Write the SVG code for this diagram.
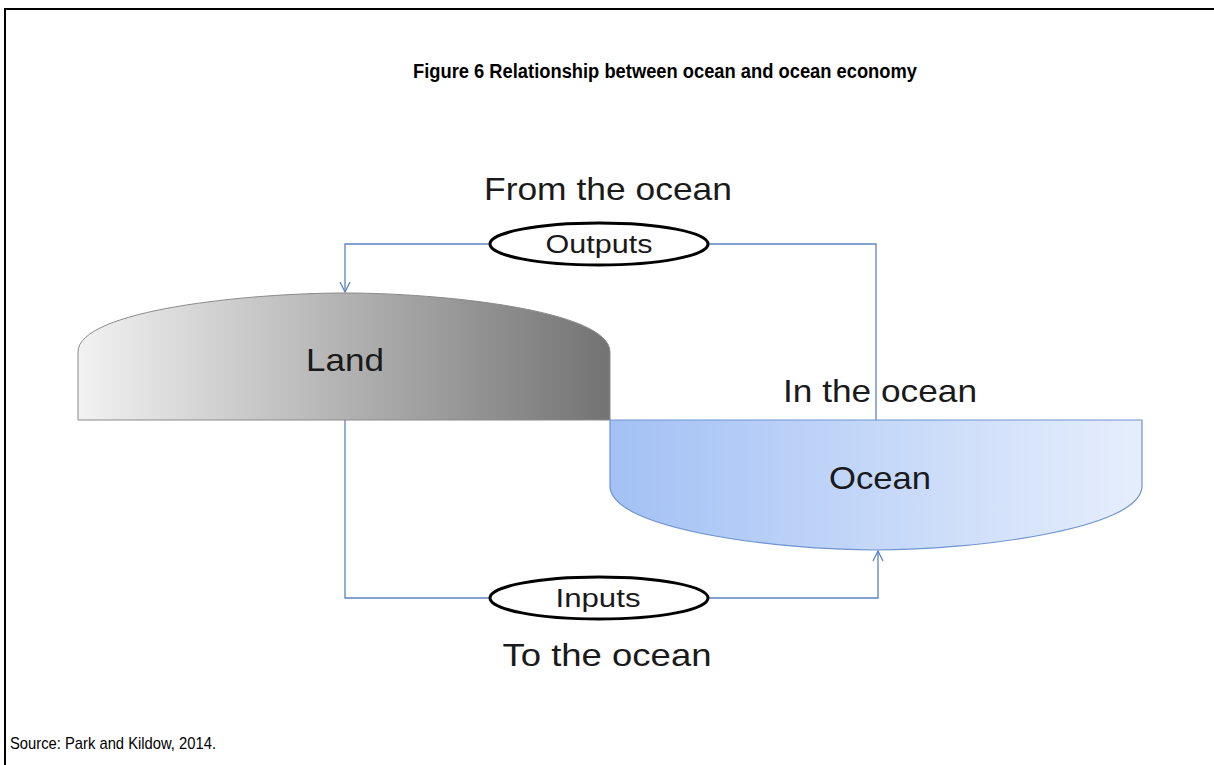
<svg xmlns="http://www.w3.org/2000/svg" width="1214" height="765" viewBox="0 0 1214 765">
<defs>
<linearGradient id="landGrad" x1="0" y1="0" x2="1" y2="0">
<stop offset="0" stop-color="#f2f2f2"/>
<stop offset="1" stop-color="#737373"/>
</linearGradient>
<linearGradient id="oceanGrad" x1="0" y1="0" x2="1" y2="0">
<stop offset="0" stop-color="#a3c1f5"/>
<stop offset="1" stop-color="#e6eefc"/>
</linearGradient>
<marker id="arr" viewBox="0 0 12 12" refX="11" refY="6" markerWidth="12" markerHeight="12" markerUnits="userSpaceOnUse" orient="auto">
<path d="M1,1 L11,6 L1,11" fill="none" stroke="#5b83c2" stroke-width="1.3"/>
</marker>
<style>
.big{font-family:"Liberation Sans",Arial,sans-serif;font-size:32px;fill:#1a1a1a;text-anchor:middle}
.lbl{font-family:"Liberation Sans",Arial,sans-serif;font-size:25px;fill:#1a1a1a;text-anchor:middle}
.conn{fill:none;stroke:#5b83c2;stroke-width:1.3}
.oval{fill:#fff;stroke:#000;stroke-width:3}
</style>
</defs>
<rect width="1214" height="765" fill="#fff"/>
<path d="M5,765 L5,9 L1214,9" fill="none" stroke="#000" stroke-width="2"/>
<text x="665" y="78" font-family="Liberation Sans,Arial,sans-serif" font-size="20" font-weight="bold" text-anchor="middle" textLength="504" lengthAdjust="spacingAndGlyphs">Figure 6 Relationship between ocean and ocean economy</text>
<text x="10" y="749" font-family="Liberation Sans,Arial,sans-serif" font-size="17" textLength="206" lengthAdjust="spacingAndGlyphs">Source: Park and Kildow, 2014.</text>

<g id="connectors">
<path class="conn" d="M876,420 L876,244 L345,244 L345,292" marker-end="url(#arr)"/>
<path class="conn" d="M345,420 L345,598 L878,598 L878,551" marker-end="url(#arr)"/>
</g>

<g id="land">
<path d="M78,420 L78,352 C78,310 250,293 345,293 C440,293 610,310 610,352 L610,420 Z" fill="url(#landGrad)" stroke="#8a8a8a" stroke-width="1"/>
<text class="big" x="345" y="371" textLength="78" lengthAdjust="spacingAndGlyphs">Land</text>
</g>

<g id="ocean">
<path d="M610,420 L1142,420 L1142,486 C1142,530 970,550 876,550 C780,550 610,530 610,486 Z" fill="url(#oceanGrad)" stroke="#6f94cf" stroke-width="1.2"/>
<text class="big" x="880" y="489" textLength="102" lengthAdjust="spacingAndGlyphs">Ocean</text>
</g>

<g id="outputs">
<ellipse class="oval" cx="599" cy="244" rx="109" ry="21"/>
<text class="lbl" x="599" y="253" textLength="107" lengthAdjust="spacingAndGlyphs">Outputs</text>
</g>

<g id="inputs">
<ellipse class="oval" cx="599" cy="598" rx="109" ry="21"/>
<text class="lbl" x="598" y="607" textLength="85" lengthAdjust="spacingAndGlyphs">Inputs</text>
</g>

<g id="labels">
<text class="big" x="608" y="200" textLength="248" lengthAdjust="spacingAndGlyphs">From the ocean</text>
<text class="big" x="880" y="402" textLength="194" lengthAdjust="spacingAndGlyphs">In the ocean</text>
<text class="big" x="607" y="666" textLength="209" lengthAdjust="spacingAndGlyphs">To the ocean</text>
</g>
</svg>
